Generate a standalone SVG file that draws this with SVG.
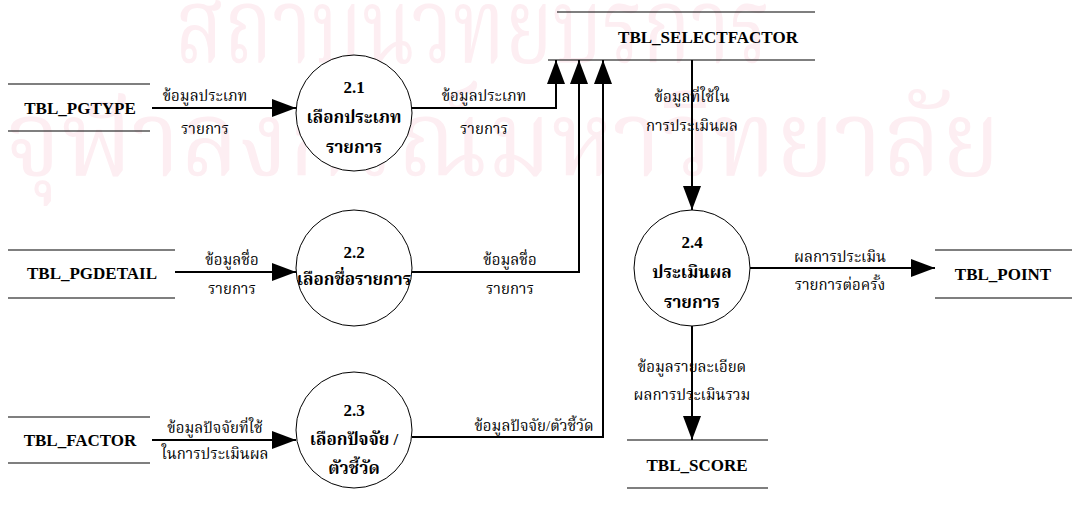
<svg xmlns="http://www.w3.org/2000/svg" width="1072" height="507" viewBox="0 0 1072 507">
<style>
.wm{font-family:"Liberation Serif","Noto Serif Thai","Noto Sans Thai Looped",serif;font-size:105px;fill:#fdeef2;}
.store{font-family:"Liberation Serif",serif;font-weight:bold;font-size:17px;fill:#000;text-anchor:middle;}
.pn{font-family:"Liberation Serif","Noto Serif Thai","Noto Sans Thai Looped",serif;font-weight:bold;font-size:17px;fill:#000;text-anchor:middle;}
.lbl{font-family:"Liberation Serif","Noto Serif Thai","Noto Sans Thai Looped",serif;font-size:15px;fill:#000;text-anchor:middle;}
.ln{stroke:#000;stroke-width:1.2;fill:none;}
.flow{stroke:#000;stroke-width:2;fill:none;}
.circ{stroke:#000;stroke-width:1;fill:#fff;}
</style>
<defs>
<marker id="ah" viewBox="0 0 24 18" refX="24" refY="9" markerWidth="24" markerHeight="18" markerUnits="userSpaceOnUse" orient="auto">
<path d="M0,0 L24,9 L0,18 Z" fill="#000"/>
</marker>
</defs>
<rect width="1072" height="507" fill="#fff"/>
<g id="watermark">
<text class="wm" x="175" y="62" textLength="595" lengthAdjust="spacingAndGlyphs">สถาบันวิทยบริการ</text>
<text class="wm" x="5" y="175" textLength="995" lengthAdjust="spacingAndGlyphs">จุฬาลงกรณ์มหาวิทยาลัย</text>
</g>
<g id="connectors">
<line class="flow" x1="152" y1="108" x2="296" y2="108" marker-end="url(#ah)"/>
<line class="flow" x1="175" y1="272" x2="296" y2="272" marker-end="url(#ah)"/>
<line class="flow" x1="152" y1="440" x2="296" y2="440" marker-end="url(#ah)"/>
<polyline class="flow" points="412,108 556,108 556,60" marker-end="url(#ah)"/>
<polyline class="flow" points="412,272 579,272 579,60" marker-end="url(#ah)"/>
<polyline class="flow" points="412,437 603,437 603,60" marker-end="url(#ah)"/>
<line class="flow" x1="692" y1="60" x2="692" y2="210" marker-end="url(#ah)"/>
<line class="flow" x1="750" y1="268" x2="935" y2="268" marker-end="url(#ah)"/>
<line class="flow" x1="692" y1="326" x2="692" y2="440" marker-end="url(#ah)"/>
<text class="lbl" x="205" y="101">ข้อมูลประเภท</text>
<text class="lbl" x="205" y="134">รายการ</text>
<text class="lbl" x="232" y="265">ข้อมูลชื่อ</text>
<text class="lbl" x="232" y="294">รายการ</text>
<text class="lbl" x="215" y="433">ข้อมูลปัจจัยที่ใช้</text>
<text class="lbl" x="215" y="459">ในการประเมินผล</text>
<text class="lbl" x="484" y="101">ข้อมูลประเภท</text>
<text class="lbl" x="484" y="134">รายการ</text>
<text class="lbl" x="510" y="265">ข้อมูลชื่อ</text>
<text class="lbl" x="510" y="294">รายการ</text>
<text class="lbl" x="534" y="431">ข้อมูลปัจจัย/ตัวชี้วัด</text>
<text class="lbl" x="692" y="102">ข้อมูลที่ใช้ใน</text>
<text class="lbl" x="692" y="131">การประเมินผล</text>
<text class="lbl" x="840" y="262">ผลการประเมิน</text>
<text class="lbl" x="840" y="290">รายการต่อครั้ง</text>
<text class="lbl" x="692" y="372">ข้อมูลรายละเอียด</text>
<text class="lbl" x="692" y="400">ผลการประเมินรวม</text>
</g>
<g id="TBL_PGTYPE">
<line class="ln" x1="8" y1="84" x2="150" y2="84"/>
<line class="ln" x1="8" y1="131" x2="150" y2="131"/>
<text class="store" x="80" y="114">TBL_PGTYPE</text>
</g>
<g id="TBL_PGDETAIL">
<line class="ln" x1="8" y1="250" x2="175" y2="250"/>
<line class="ln" x1="8" y1="298" x2="175" y2="298"/>
<text class="store" x="92" y="279">TBL_PGDETAIL</text>
</g>
<g id="TBL_FACTOR">
<line class="ln" x1="8" y1="417" x2="150" y2="417"/>
<line class="ln" x1="8" y1="463" x2="150" y2="463"/>
<text class="store" x="80" y="446">TBL_FACTOR</text>
</g>
<g id="TBL_SELECTFACTOR">
<line class="ln" x1="557" y1="12" x2="815" y2="12"/>
<line class="ln" x1="548" y1="60" x2="815" y2="60"/>
<text class="store" x="708" y="43">TBL_SELECTFACTOR</text>
</g>
<g id="TBL_POINT">
<line class="ln" x1="935" y1="250" x2="1072" y2="250"/>
<line class="ln" x1="935" y1="298" x2="1072" y2="298"/>
<text class="store" x="1003" y="280">TBL_POINT</text>
</g>
<g id="TBL_SCORE">
<line class="ln" x1="627" y1="440" x2="768" y2="440"/>
<line class="ln" x1="627" y1="488" x2="768" y2="488"/>
<text class="store" x="697" y="471">TBL_SCORE</text>
</g>
<g id="p2_1">
<circle class="circ" cx="354" cy="113" r="58"/>
<text class="pn" x="354" y="93">2.1</text>
<text class="pn" x="354" y="123">เลือกประเภท</text>
<text class="pn" x="354" y="153">รายการ</text>
</g>
<g id="p2_2">
<circle class="circ" cx="354" cy="268" r="58"/>
<text class="pn" x="354" y="258">2.2</text>
<text class="pn" x="354" y="285">เลือกชื่อรายการ</text>
</g>
<g id="p2_3">
<circle class="circ" cx="354" cy="430" r="58"/>
<text class="pn" x="354" y="416">2.3</text>
<text class="pn" x="354" y="445">เลือกปัจจัย /</text>
<text class="pn" x="354" y="474">ตัวชี้วัด</text>
</g>
<g id="p2_4">
<circle class="circ" cx="692" cy="268" r="58"/>
<text class="pn" x="692" y="248">2.4</text>
<text class="pn" x="692" y="278">ประเมินผล</text>
<text class="pn" x="692" y="308">รายการ</text>
</g>
</svg>
